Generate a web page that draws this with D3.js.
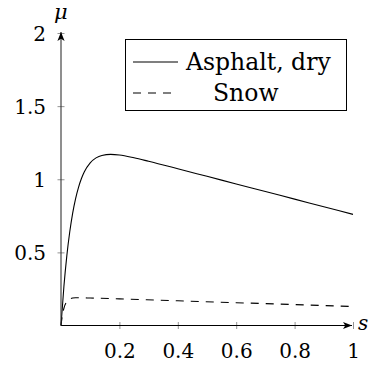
<!DOCTYPE html>
<html><head><meta charset="utf-8">
<script src="https://cdn.jsdelivr.net/npm/d3@7"></script>
<style>
html,body{margin:0;padding:0;background:#fff;}
text{font-family:"DejaVu Serif",serif;fill:#000;}
</style></head>
<body><svg id="c" width="369" height="367"></svg>
<script>
const xTicks = [0.2, 0.4, 0.6, 0.8, 1];
const xTickLabels = ["0.2", "0.4", "0.6", "0.8", "1"];
const yTicks = [0.5, 1, 1.5, 2];
const yTickLabels = ["0.5", "1", "1.5", "2"];
const seriesNames = ["Asphalt, dry", "Snow"];
const asphaltS  = [0, 0.01, 0.02, 0.03, 0.04, 0.05, 0.06, 0.07, 0.08, 0.10, 0.12, 0.14, 0.17, 0.20, 0.25, 0.30, 0.40, 0.50, 0.60, 0.70, 0.80, 0.90, 1.00];
const asphaltMu = [0, 0.268, 0.478, 0.641, 0.769, 0.868, 0.945, 1.005, 1.051, 1.112, 1.146, 1.163, 1.170, 1.166, 1.147, 1.123, 1.072, 1.020, 0.968, 0.916, 0.864, 0.812, 0.760];
const snowS  = [0, 0.005, 0.01, 0.02, 0.03, 0.04, 0.05, 0.06, 0.08, 0.10, 0.20, 0.40, 0.60, 0.80, 1.00];
const snowMu = [0, 0.073, 0.118, 0.164, 0.181, 0.188, 0.190, 0.190, 0.189, 0.188, 0.182, 0.169, 0.156, 0.143, 0.130];

const svg = d3.select("#c");
const x = d3.scaleLinear().domain([0, 1]).range([61, 353]);
const y = d3.scaleLinear().domain([0, 2]).range([325.5, 33]);
const FS = 20, LFS = 23.5;

const defs = svg.append("defs");
defs.append("marker").attr("id","arr").attr("viewBox","0 0 10 10").attr("refX",10).attr("refY",5)
  .attr("markerWidth",9).attr("markerHeight",9).attr("markerUnits","userSpaceOnUse").attr("orient","auto")
  .append("path").attr("d","M0,1 L10,5 L0,9 L2.5,5 Z").attr("fill","#000");

// curves
const line = d3.line().x(d => x(d[0])).y(d => y(d[1])).curve(d3.curveMonotoneX);
svg.append("path").datum(asphaltS.map((s,i)=>[s, asphaltMu[i]]))
  .attr("d", line).attr("fill","none").attr("stroke","#000").attr("stroke-width",1.1);
svg.append("path").datum(snowS.map((s,i)=>[s, snowMu[i]]))
  .attr("d", line).attr("fill","none").attr("stroke","#000").attr("stroke-width",1.1)
  .attr("stroke-dasharray","8,7");

// axes
const xAxis = d3.axisBottom(x).tickValues(xTicks).tickFormat((d,i)=>xTickLabels[i]).tickSize(0).tickPadding(0);
const gx = svg.append("g").attr("transform",`translate(0,${y(0)})`).call(xAxis);
gx.select(".domain").remove();
gx.selectAll(".tick line").remove();
gx.selectAll(".tick text").attr("font-size",FS).attr("y",32).attr("dy",null).attr("font-family","DejaVu Serif");
gx.selectAll(".tick").append("line").attr("y1",-3.5).attr("y2",3.5).attr("stroke","#777").attr("stroke-width",0.8);

const yAxis = d3.axisLeft(y).tickValues(yTicks).tickFormat((d,i)=>yTickLabels[i]).tickSize(0).tickPadding(0);
const gy = svg.append("g").attr("transform",`translate(${x(0)},0)`).call(yAxis);
gy.select(".domain").remove();
gy.selectAll(".tick line").remove();
gy.selectAll(".tick text").attr("font-size",FS).attr("x",-15).attr("dy","0.36em").attr("font-family","DejaVu Serif");
gy.selectAll(".tick").append("line").attr("x1",-3.5).attr("x2",3.5).attr("stroke","#777").attr("stroke-width",0.8);

svg.append("line").attr("x1",x(0)).attr("x2",x(1)-1).attr("y1",y(0)).attr("y2",y(0))
  .attr("stroke","#000").attr("stroke-width",1.1).attr("marker-end","url(#arr)");
svg.append("line").attr("x1",x(0)).attr("x2",x(0)).attr("y1",y(0)).attr("y2",y(2)-1)
  .attr("stroke","#333").attr("stroke-width",1.1).attr("marker-end","url(#arr)");

svg.append("text").attr("x",54).attr("y",19).attr("font-size",21).attr("font-style","italic").text("μ");
svg.append("text").attr("x",358).attr("y",330).attr("font-size",FS).attr("font-style","italic").text("s");

// legend
const lg = svg.append("g");
lg.append("rect").attr("x",125.5).attr("y",39.5).attr("width",221).attr("height",71)
  .attr("fill","#fff").attr("stroke","#000").attr("stroke-width",1);
const rows = [62, 93];
const textX = [186, 213];
seriesNames.forEach((n,i)=>{
  lg.append("line").attr("x1",133).attr("x2",178).attr("y1",rows[i]).attr("y2",rows[i])
    .attr("stroke","#000").attr("stroke-width",1.1).attr("stroke-dasharray", i===1 ? "8,7" : null);
  lg.append("text").attr("x", textX[i]).attr("y", rows[i]).attr("dy","0.36em")
    .attr("font-size",LFS).text(n);
});
</script></body></html>
